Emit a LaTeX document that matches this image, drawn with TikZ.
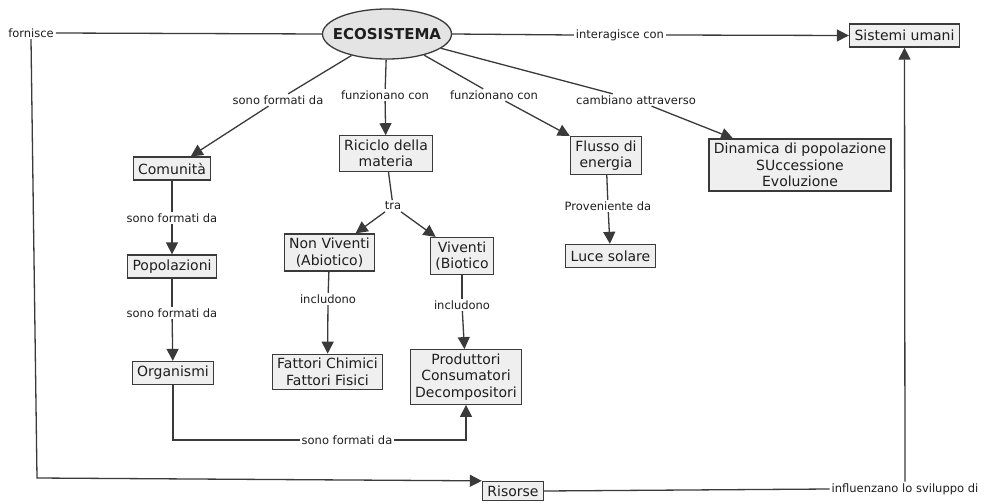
\documentclass[tikz,border=0pt]{standalone}
\usepackage{fontspec}
\setmainfont{DejaVu Sans}
\usetikzlibrary{arrows.meta,shapes.geometric}
\definecolor{ink}{HTML}{1E1E1E}
\definecolor{edge}{HTML}{3A3A3A}
\definecolor{boxfill}{HTML}{EFEFEF}
\definecolor{ovalfill}{HTML}{E4E4E4}

\begin{document}
\begin{tikzpicture}[x=1pt,y=-1pt,
  concept/.style={draw=edge, fill=boxfill, line width=1.3pt, inner xsep=5pt, inner ysep=4pt,
    minimum height=23pt, align=center, text=ink, font=\fontsize{14}{16.5}\selectfont},
  root/.style={ellipse, draw=edge, fill=ovalfill, line width=1.3pt, minimum width=129pt,
    minimum height=50pt, inner sep=0pt, text=ink, font=\fontsize{15}{17}\selectfont\bfseries},
  link/.style={fill=white, inner xsep=2pt, inner ysep=1.5pt, text=ink, font=\fontsize{11.5}{13}\selectfont},
  conn/.style={draw=edge, line width=1.3pt},
  arr/.style={conn, -{Triangle[length=12pt,width=12pt]}},
]
\useasboundingbox (0,0) rectangle (988,503);

% central concept and top-level links
\node[root] (eco) at (387,34) {\makebox[0pt][c]{ECOSISTEMA}};
\node[concept] (sis) at (904.5,35.5) {Sistemi umani};
\node[link] (lInter) at (620,35) {interagisce con};
\node[link] (forn) at (31,33) {fornisce};

\node[link] (lSono1) at (278,100) {sono formati da};
\node[link] (lFunz1) at (385,95) {funzionano con};
\node[link] (lFunz2) at (494,95) {funzionano con};
\node[link] (lCamb) at (636,100) {cambiano attraverso};

% second level
\node[concept] (com) at (172,168.5) {Comunità};
\node[concept] (ric) at (386,153.5) {Riciclo della\\materia};
\node[concept] (flu) at (606,155.5) {Flusso di\\energia};
\node[concept] (din) at (800,165) {Dinamica di popolazione\\SUccessione\\Evoluzione};

% left branch
\node[link] (lSono2) at (172,218) {sono formati da};
\node[concept] (pop) at (172,266.5) {Popolazioni};
\node[link] (lSono3) at (172,313) {sono formati da};
\node[concept] (org) at (173,373) {Organismi};

% matter cycle branch
\node[link] (lTra) at (393,206) {tra};
\node[concept] (nonviv) at (329.5,252.5) {Non Viventi\\(Abiotico)};
\node[concept] (viv) at (462,256) {Viventi\\(Biotico};
\node[link] (lInc1) at (328,299) {includono};
\node[link] (lInc2) at (462,305) {includono};
\node[concept] (fat) at (327.5,372) {Fattori Chimici\\Fattori Fisici};
\node[concept] (pro) at (466,377) {Produttori\\Consumatori\\Decompositori};
\node[link] (lSono4) at (347,440) {sono formati da};

% energy branch
\node[link] (lProv) at (608,206) {Proveniente da};
\node[concept] (luce) at (610.5,256) {Luce solare};

% resources
\node[concept, minimum height=19pt, inner ysep=2pt] (ris) at (513,491) {Risorse};
\node[link] (lInfl) at (905,489) {influenzano lo sviluppo di};
\coordinate (cornerF) at (37,478);

% connectors
\draw[conn] (eco.west) -- (forn.east);
\draw[arr] (forn.south) -- (cornerF) -- (ris.north west);
\draw[conn] (eco.east) -- (lInter.west);
\draw[arr] (lInter.east) -- (sis.west);

\draw[conn] (eco) -- (lSono1);
\draw[arr] (lSono1) -- (com);
\draw[conn] (eco) -- (lFunz1);
\draw[arr] (lFunz1) -- (ric);
\draw[conn] (eco) -- (lFunz2);
\draw[arr] (lFunz2) -- (flu);
\draw[conn] (eco) -- (lCamb);
\draw[arr] (lCamb) -- (din);

\draw[conn] (com) -- (lSono2);
\draw[arr] (lSono2) -- (pop);
\draw[conn] (pop) -- (lSono3);
\draw[arr] (lSono3) -- (org);

\draw[conn] (ric) -- (lTra);
\draw[arr] (lTra) -- (nonviv);
\draw[arr] (lTra) -- (viv);
\draw[conn] (nonviv) -- (lInc1);
\draw[arr] (lInc1) -- (fat);
\draw[conn] (viv) -- (lInc2);
\draw[arr] (lInc2) -- (pro);

\draw[conn] (org.south) |- (lSono4.west);
\draw[arr] (lSono4.east) -| (pro.south);

\draw[conn] (flu) -- (lProv);
\draw[arr] (lProv) -- (luce);

\draw[conn] (ris.east) -- (lInfl.west);
\draw[arr] (lInfl.north) -- (sis.south);
\end{tikzpicture}
\end{document}
